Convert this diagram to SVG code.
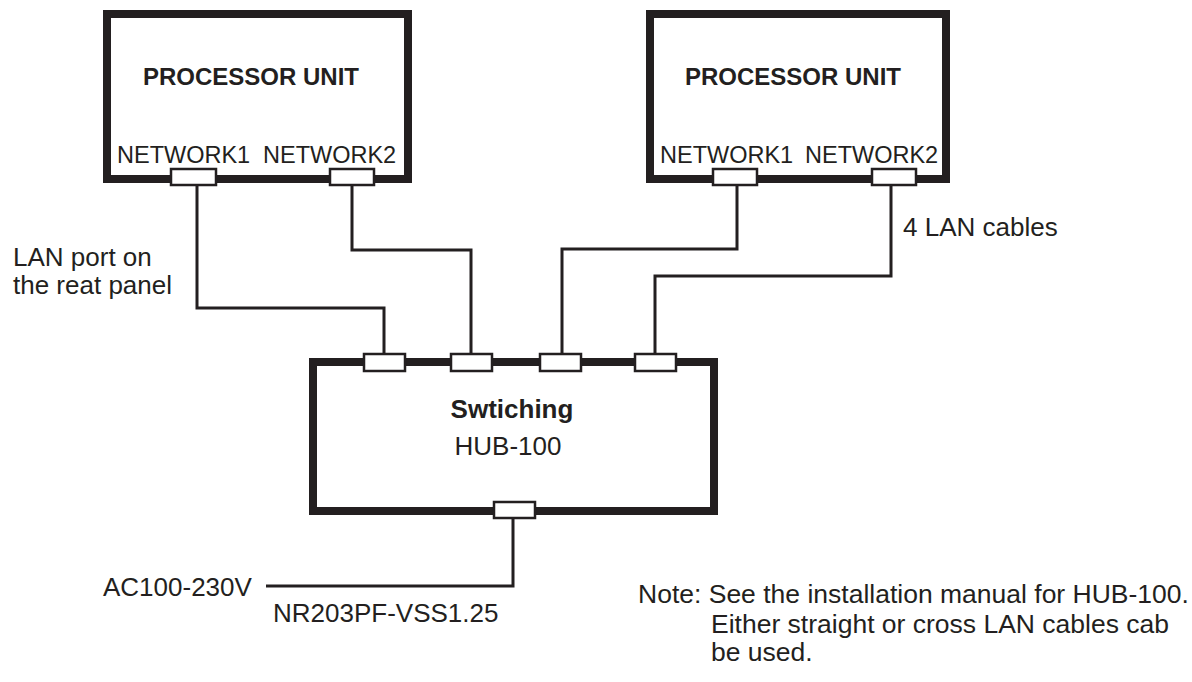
<svg xmlns="http://www.w3.org/2000/svg" width="1192" height="682" viewBox="0 0 1192 682">
<style>
.box{fill:#fff;stroke:#231f20;stroke-width:8}
.port{fill:#fff;stroke:#231f20;stroke-width:2.5}
.cable{fill:none;stroke:#231f20;stroke-width:3}
text{font-family:"Liberation Sans",Arial,sans-serif;fill:#231f20}
.t{font-size:26px}
.nt{font-size:26.5px}
.n{font-size:23.5px}
.b{font-size:24px;font-weight:bold}
.bh{font-size:26px;font-weight:bold}
</style>
<rect width="1192" height="682" fill="#fff"/>
<g id="connectors">
<path class="cable" d="M197 186 V308 H384 V354"/>
<path class="cable" d="M352 186 V250 H471 V354"/>
<path class="cable" d="M737 186 V249 H562 V354"/>
<path class="cable" d="M891 186 V276 H655 V354"/>
<path class="cable" d="M513 518 V586 H266"/>
</g>
<g id="processor1">
<rect class="box" x="107" y="14" width="301" height="165"/>
<text class="b" x="143" y="85">PROCESSOR UNIT</text>
<text class="n" x="117" y="163">NETWORK1</text>
<text class="n" x="263" y="163">NETWORK2</text>
<rect class="port" x="171" y="169" width="45" height="16"/>
<rect class="port" x="330" y="169" width="44" height="16"/>
</g>
<g id="processor2">
<rect class="box" x="650" y="14" width="296" height="165"/>
<text class="b" x="685" y="85">PROCESSOR UNIT</text>
<text class="n" x="660" y="163">NETWORK1</text>
<text class="n" x="805" y="163">NETWORK2</text>
<rect class="port" x="713" y="169" width="44" height="16"/>
<rect class="port" x="872" y="169" width="44" height="16"/>
</g>
<g id="hub">
<rect class="box" x="313" y="362" width="401" height="149"/>
<text class="bh" x="512" y="418" text-anchor="middle">Swtiching</text>
<text class="t" x="508" y="455" text-anchor="middle">HUB-100</text>
<rect class="port" x="364" y="354" width="41" height="17"/>
<rect class="port" x="451" y="354" width="41" height="17"/>
<rect class="port" x="540" y="354" width="41" height="17"/>
<rect class="port" x="635" y="354" width="41" height="17"/>
<rect class="port" x="494" y="502" width="41" height="16"/>
</g>
<g id="labels">
<text class="t" x="13" y="266">LAN port on</text>
<text class="t" x="13" y="294">the reat panel</text>
<text class="t" x="903" y="236">4 LAN cables</text>
<text class="t" x="103" y="596">AC100-230V</text>
<text class="t" x="273" y="622">NR203PF-VSS1.25</text>
<text class="nt" x="638" y="603">Note: See the installation manual for HUB-100.</text>
<text class="nt" x="711" y="633">Either straight or cross LAN cables cab</text>
<text class="nt" x="711" y="661">be used.</text>
</g>
</svg>
